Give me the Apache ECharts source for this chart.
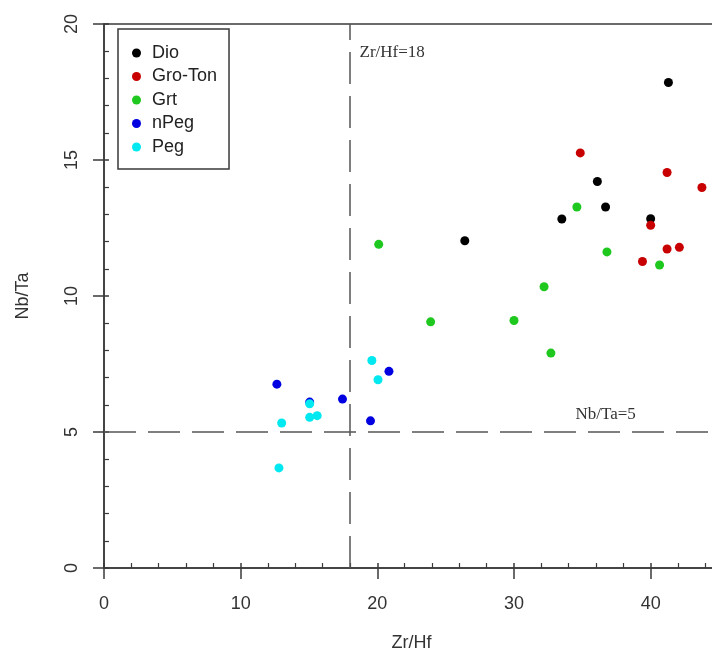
<!DOCTYPE html>
<html>
<head>
<meta charset="utf-8">
<script src="https://cdn.jsdelivr.net/npm/echarts@6/dist/echarts.min.js"></script>
<style>
  html, body { margin: 0; padding: 0; background: #fff; }
  #chart { width: 712px; height: 657px; }
</style>
</head>
<body>
<div id="chart"></div>
<script>
// Zr/Hf (x) vs Nb/Ta (y)
const groups = ['Dio', 'Gro-Ton', 'Grt', 'nPeg', 'Peg'];
const groupColors = ['#000000', '#c80000', '#1ec81e', '#0000e0', '#00e8f0'];

const dio = [[26.4, 12.03], [33.5, 12.83], [36.1, 14.21], [36.7, 13.27], [40.0, 12.84], [41.3, 17.85]];
const groTon = [[34.85, 15.26], [41.2, 14.54], [43.75, 13.99], [40.0, 12.6], [41.2, 11.73], [42.1, 11.79], [39.4, 11.27]];
const grt = [[20.1, 11.9], [23.9, 9.05], [30.0, 9.1], [32.2, 10.34], [32.7, 7.9], [34.6, 13.27], [36.8, 11.62], [40.65, 11.14]];
const nPeg = [[12.65, 6.76], [15.05, 6.1], [17.45, 6.21], [19.5, 5.41], [20.85, 7.23]];
const peg = [[19.6, 7.63], [20.05, 6.92], [15.05, 6.04], [15.05, 5.54], [15.6, 5.6], [13.0, 5.33], [12.8, 3.68]];

const xTicks = [0, 10, 20, 30, 40];
const yTicks = [0, 5, 10, 15, 20];
const zrHfLimit = 18;
const nbTaLimit = 5;

const chart = echarts.init(document.getElementById('chart'));

const axisColor = '#3a3a3a';
const sans = 'Liberation Sans, Arial, sans-serif';
const serif = 'Liberation Serif, Times New Roman, serif';
const dashStyle = { color: '#555', width: 1.5, type: [32, 12] };

const seriesData = [dio, groTon, grt, nPeg, peg];

const series = groups.map((name, i) => ({
  name: name,
  type: 'scatter',
  data: seriesData[i],
  symbol: 'circle',
  symbolSize: 9,
  itemStyle: { color: groupColors[i], opacity: 1 },
  emphasis: { disabled: true },
  z: 3
}));

// dashed limit lines + their labels
series.push({
  type: 'scatter',
  data: [],
  silent: true,
  markLine: {
    silent: true,
    symbol: 'none',
    label: { show: false },
    lineStyle: dashStyle,
    data: [{ xAxis: zrHfLimit }, { yAxis: nbTaLimit }]
  },
  markPoint: {
    silent: true,
    symbol: 'circle',
    symbolSize: 0,
    label: {
      show: true,
      position: 'right',
      distance: 0,
      color: '#333',
      fontFamily: serif,
      fontSize: 17
    },
    data: [
      { coord: [18.7, 18.95], value: 'Zr/Hf=18', label: { formatter: 'Zr/Hf=' + zrHfLimit } },
      { coord: [34.5, 5.64], value: 'Nb/Ta=5', label: { formatter: 'Nb/Ta=' + nbTaLimit } }
    ]
  },
  z: 2
});

const xBase = { type: 'value', min: 0, max: 45, interval: 10, gridIndex: 0, position: 'bottom' };
const yBase = { type: 'value', min: 0, max: 20, interval: 5, gridIndex: 0, position: 'left' };

const option = {
  backgroundColor: '#fff',
  animation: false,
  grid: {
    left: 104, right: -7, top: 24, bottom: 89,
    outerBoundsMode: 'none',
    containLabel: false,
    show: true, borderColor: axisColor, borderWidth: 1.5, backgroundColor: 'transparent'
  },
  legend: {
    orient: 'vertical',
    left: 118,
    top: 29,
    data: groups,
    icon: 'circle',
    itemWidth: 9,
    itemHeight: 9,
    itemGap: 3.5,
    padding: [14, 12, 12, 14],
    borderColor: axisColor,
    borderWidth: 1.5,
    selectedMode: false,
    textStyle: { fontFamily: sans, fontSize: 18, color: '#222', lineHeight: 20, padding: [0, 0, 0, 6] }
  },
  xAxis: [
    Object.assign({}, xBase, {
      name: 'Zr/Hf',
      nameLocation: 'middle',
      nameGap: 66,
      nameTextStyle: { fontFamily: sans, fontSize: 18, color: '#333' },
      axisLine: { show: true, lineStyle: { color: axisColor, width: 1.5 } },
      axisTick: { show: true, inside: false, length: 11, lineStyle: { color: axisColor, width: 1.5 } },
      axisLabel: {
        margin: 27, fontFamily: sans, fontSize: 18, color: '#333',
        formatter: v => (xTicks.indexOf(v) >= 0 ? String(v) : '')
      },
      splitLine: { show: false }
    }),
    Object.assign({}, xBase, {
      axisLine: { show: false },
      axisTick: { show: true, inside: true, length: 5, lineStyle: { color: axisColor, width: 1.5 } },
      minorTick: { show: true, splitNumber: 5, length: 5, lineStyle: { color: axisColor, width: 1.2 } },
      axisLabel: { show: false },
      splitLine: { show: false }
    })
  ],
  yAxis: [
    Object.assign({}, yBase, {
      name: 'Nb/Ta',
      nameLocation: 'middle',
      nameGap: 72,
      nameTextStyle: { fontFamily: sans, fontSize: 18, color: '#333' },
      axisLine: { show: true, lineStyle: { color: axisColor, width: 1.5 } },
      axisTick: { show: true, inside: false, length: 11, lineStyle: { color: axisColor, width: 1.5 } },
      axisLabel: {
        margin: 23, rotate: 90, fontFamily: sans, fontSize: 18, color: '#333',
        formatter: v => (yTicks.indexOf(v) >= 0 ? String(v) : '')
      },
      splitLine: { show: false }
    }),
    Object.assign({}, yBase, {
      axisLine: { show: false },
      axisTick: { show: true, inside: true, length: 5, lineStyle: { color: axisColor, width: 1.5 } },
      minorTick: { show: true, splitNumber: 5, length: 5, lineStyle: { color: axisColor, width: 1.2 } },
      axisLabel: { show: false },
      splitLine: { show: false }
    })
  ],
  series: series
};

chart.setOption(option);
</script>
</body>
</html>
